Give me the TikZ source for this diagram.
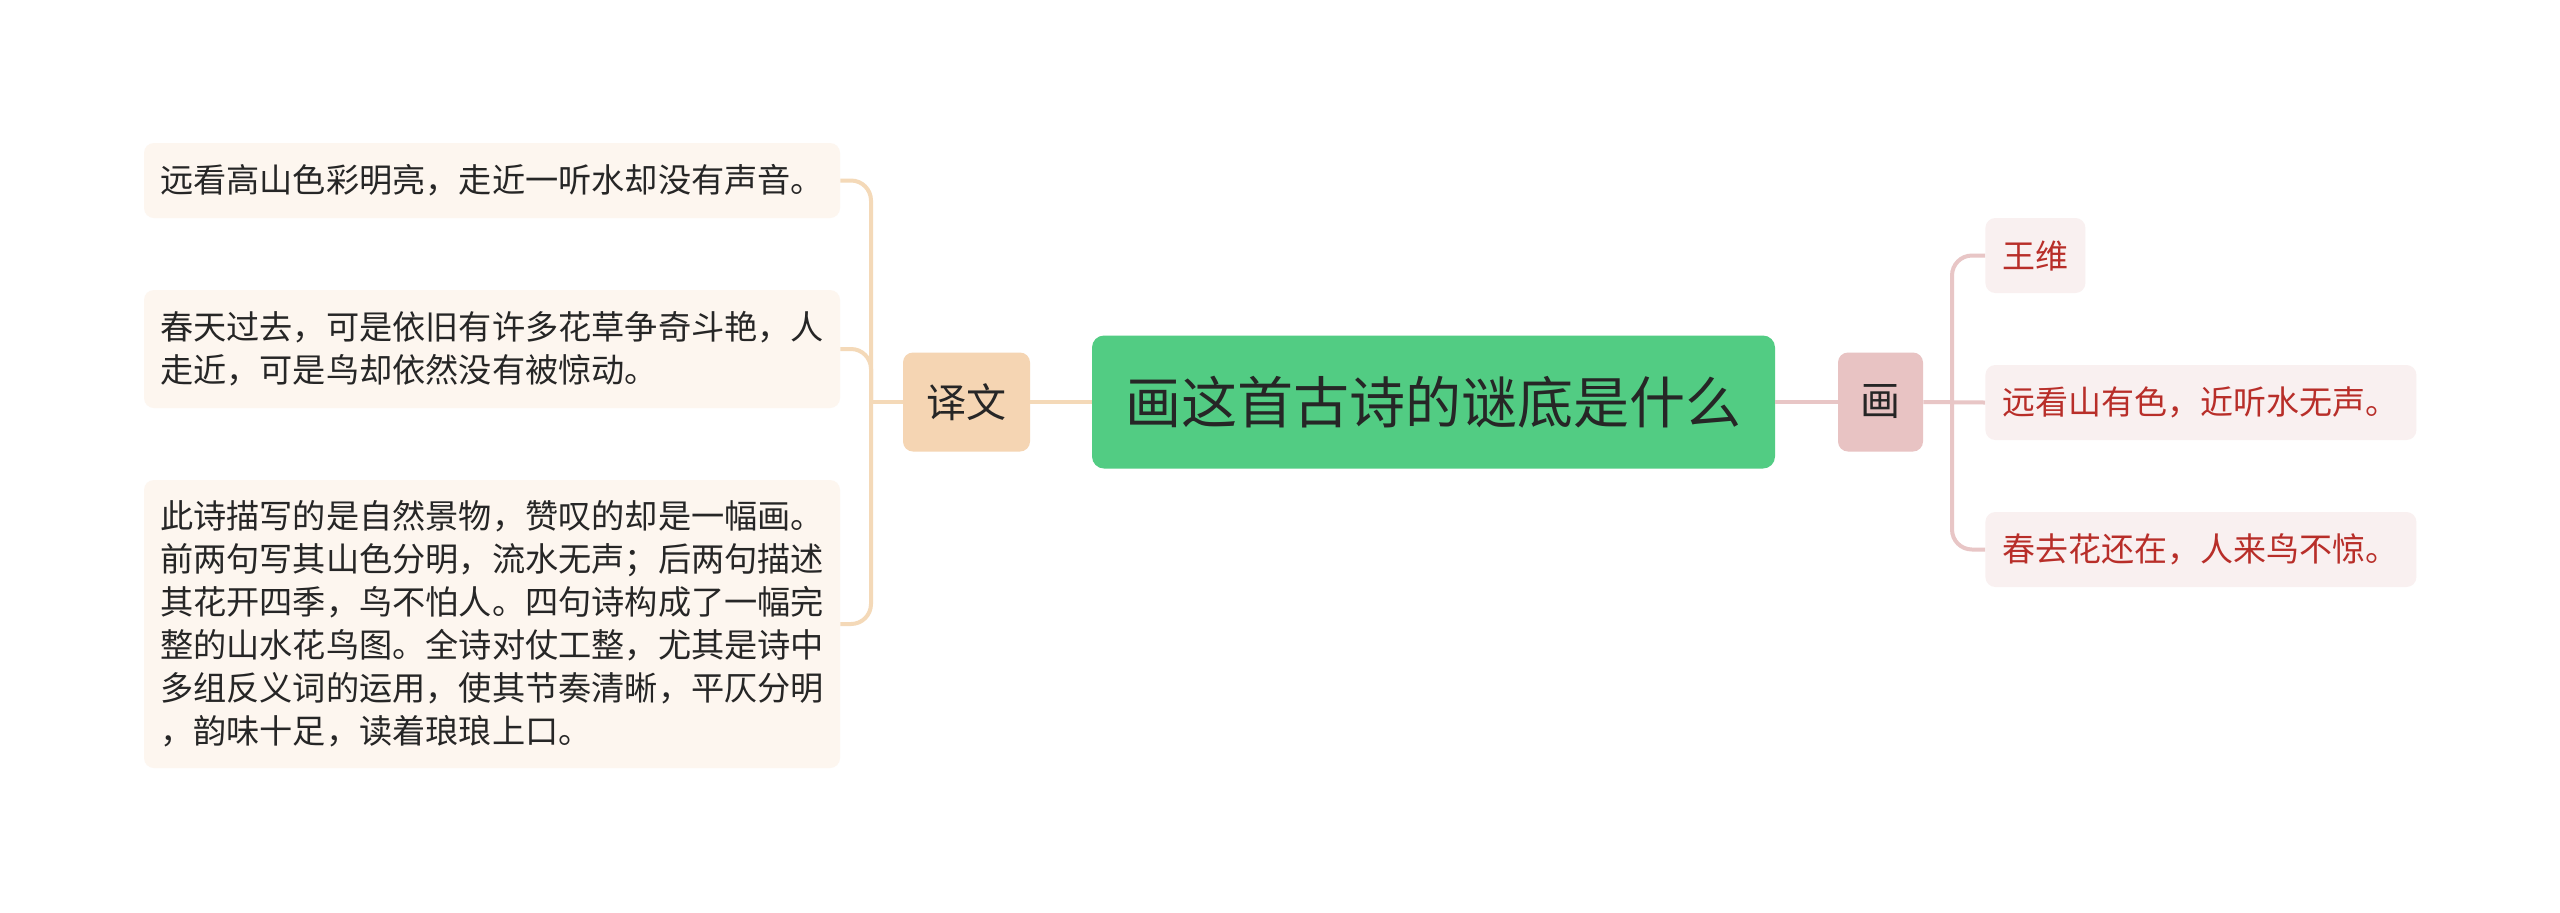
\documentclass[tikz,border=0pt]{standalone}
\usepackage{fontspec}
\setmainfont{Noto Sans CJK SC}
\XeTeXlinebreaklocale "zh"
\definecolor{mainfill}{HTML}{52CC83}
\definecolor{yiwenfill}{HTML}{F5D5B3}
\definecolor{huafill}{HTML}{E8C3C3}
\definecolor{leafLfill}{HTML}{FDF6EF}
\definecolor{leafRfill}{HTML}{F9F0F0}
\definecolor{linkLcol}{HTML}{F4D9B8}
\definecolor{linkRcol}{HTML}{E8C6C6}
\definecolor{txt}{HTML}{262626}
\definecolor{redtxt}{HTML}{B82E29}
\tikzset{
  mainbox/.style={fill=mainfill, rounded corners=6pt, minimum width=341.5pt, minimum height=66.5pt, inner sep=0pt, text=txt, font=\fontsize{28pt}{34pt}\selectfont},
  subbox/.style={rounded corners=5pt, minimum height=49.5pt, inner sep=0pt, text=txt, font=\fontsize{20pt}{24pt}\selectfont},
  leafL/.style={fill=leafLfill, rounded corners=5pt, minimum width=348pt, inner xsep=8pt, inner ysep=0pt, align=left, text=txt, font=\fontsize{16.6pt}{21.5pt}\selectfont},
  leafR/.style={fill=leafRfill, rounded corners=5pt, minimum height=37.5pt, inner xsep=8.5pt, inner ysep=0pt, anchor=west, text=redtxt, font=\fontsize{16.5pt}{21.5pt}\selectfont},
  linkL/.style={draw=linkLcol, line width=2pt},
  linkR/.style={draw=linkRcol, line width=2pt},
}
\begin{document}
\begin{tikzpicture}[x=0.5pt, y=-0.5pt]
\useasboundingbox[fill=white] (0,0) rectangle (2560,912);
% central node
\node[mainbox] (main) at (1433.5,402) {画这首古诗的谜底是什么};
% level-1
\node[subbox, fill=yiwenfill, minimum width=63.5pt] (yiwen) at (966.5,402) {译文};
\node[subbox, fill=huafill, minimum width=42.5pt] (hua) at (1880.5,402) {画};
% left leaves
\node[leafL, minimum height=37.5pt] (L1) at (492,180.5) {远看高山色彩明亮，走近一听水却没有声音。};
\node[leafL, minimum height=59pt] (L2) at (492,349) {春天过去，可是依旧有许多花草争奇斗艳，人\\走近，可是鸟却依然没有被惊动。};
\node[leafL, minimum height=144pt] (L3) at (492,624) {此诗描写的是自然景物，赞叹的却是一幅画。\\前两句写其山色分明，流水无声；后两句描述\\其花开四季，鸟不怕人。四句诗构成了一幅完\\整的山水花鸟图。全诗对仗工整，尤其是诗中\\多组反义词的运用，使其节奏清晰，平仄分明\\，韵味十足，读着琅琅上口。};
% right leaves
\node[leafR] (R1) at (1985,255.5) {王维};
\node[leafR, minimum width=215.5pt] (R2) at (1985,402.5) {远看山有色，近听水无声。};
\node[leafR, minimum width=215.5pt] (R3) at (1985,549.5) {春去花还在，人来鸟不惊。};
% connectors
\coordinate (jl) at (871,402);
\coordinate (jr) at (1952,402);
\draw[linkL] (main.west) -- (yiwen.east);
\draw[linkL] (yiwen.west) -- (jl);
\draw[linkL, rounded corners=10pt] (jl) |- (L1.east);
\draw[linkL, rounded corners=10pt] (jl) |- (L2.east);
\draw[linkL, rounded corners=10pt] (jl) |- (L3.east);
\draw[linkR] (main.east) -- (hua.west);
\draw[linkR] (hua.east) -- (R2.west);
\draw[linkR, rounded corners=10pt] (jr) |- (R1.west);
\draw[linkR, rounded corners=10pt] (jr) |- (R3.west);
\end{tikzpicture}
\end{document}
